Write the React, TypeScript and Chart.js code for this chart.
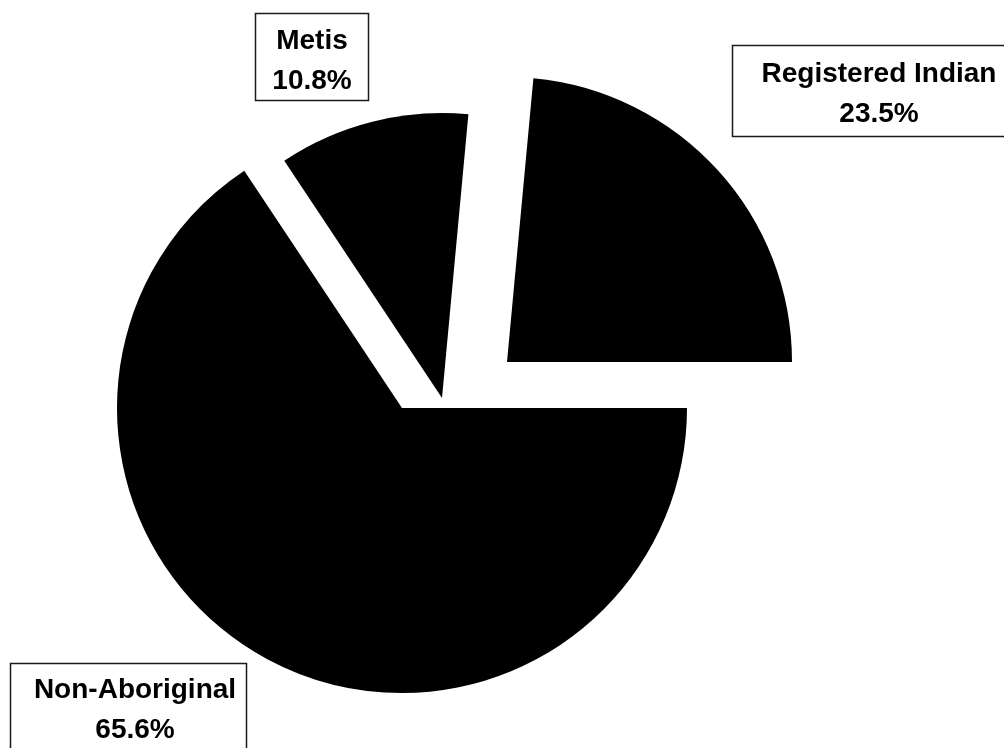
import React, { useEffect, useRef } from "react";
import { Chart, registerables } from "chart.js";

Chart.register(...registerables);

// ---- data ----
const categories = ["Non-Aboriginal", "Metis", "Registered Indian"];
const shares = [65.6, 10.8, 23.5];

// ---- styles / layout (not data) ----
const sliceColors = ["#000000", "#000000", "#000000"];
const PIE_RADIUS = 285;
// per-slice explode displacement [dx, dy]
const explodeShift = [
  [0, 0],
  [40, -10],
  [105, -46],
];
// label boxes [left, top, width, height]
const labelBoxes = [
  [10, 663, 236, 100],
  [255, 13, 113, 87],
  [732, 45, 290, 91],
];
// label text anchors [centerX, firstBaseline]
const labelAnchors = [
  [135, 698],
  [312, 49],
  [879, 82],
];
const LINE_GAP = 40;
const FONT = "bold 28px 'Liberation Sans', Arial, sans-serif";

const explodePlugin = {
  id: "explode",
  afterDatasetsUpdate(chart: any, _args: any, opts: any) {
    const meta = chart.getDatasetMeta(0);
    meta.data.forEach((arc: any, i: number) => {
      const s = opts.shifts[i] || [0, 0];
      arc.x += s[0];
      arc.y += s[1];
    });
  },
};

const boxLabelPlugin = {
  id: "boxLabels",
  afterDraw(chart: any, _args: any, opts: any) {
    const ctx = chart.ctx;
    ctx.save();
    opts.labels.forEach((lines: string[], i: number) => {
      const [bx, by, bw, bh] = opts.boxes[i];
      ctx.fillStyle = "#ffffff";
      ctx.fillRect(bx, by, bw, bh);
      ctx.strokeStyle = "#1a1a1a";
      ctx.lineWidth = 1.5;
      ctx.strokeRect(bx + 0.5, by + 0.5, bw, bh);
      const [cx, baseY] = opts.anchors[i];
      ctx.fillStyle = "#000000";
      ctx.font = FONT;
      ctx.textAlign = "center";
      ctx.textBaseline = "alphabetic";
      lines.forEach((t, j) => ctx.fillText(t, cx, baseY + j * LINE_GAP));
    });
    ctx.restore();
  },
};

export default function App() {
  const ref = useRef<HTMLCanvasElement | null>(null);

  useEffect(() => {
    if (!ref.current) return;
    const labels = categories.map((c, i) => [c, `${shares[i].toFixed(1)}%`]);
    const chart = new Chart(ref.current, {
      type: "pie",
      data: {
        labels: categories,
        datasets: [
          {
            data: shares,
            backgroundColor: sliceColors,
            borderWidth: 0,
            offset: 0,
            hoverOffset: 0,
          },
        ],
      },
      options: {
        responsive: false,
        animation: false,
        rotation: 90,
        radius: PIE_RADIUS,
        layout: { padding: { left: 0, right: 200, top: 68, bottom: 0 } },
        plugins: {
          legend: { display: false },
          tooltip: { enabled: false },
          title: { display: false },
          explode: { shifts: explodeShift },
          boxLabels: { labels, boxes: labelBoxes, anchors: labelAnchors },
        } as any,
      } as any,
      plugins: [explodePlugin, boxLabelPlugin],
    });
    return () => chart.destroy();
  }, []);

  return (
    <div
      style={{
        position: "fixed",
        left: 0,
        top: 0,
        width: 1004,
        height: 748,
        background: "#ffffff",
      }}
    >
      <canvas ref={ref} width={1004} height={748} style={{ width: 1004, height: 748, display: "block" }} />
    </div>
  );
}
